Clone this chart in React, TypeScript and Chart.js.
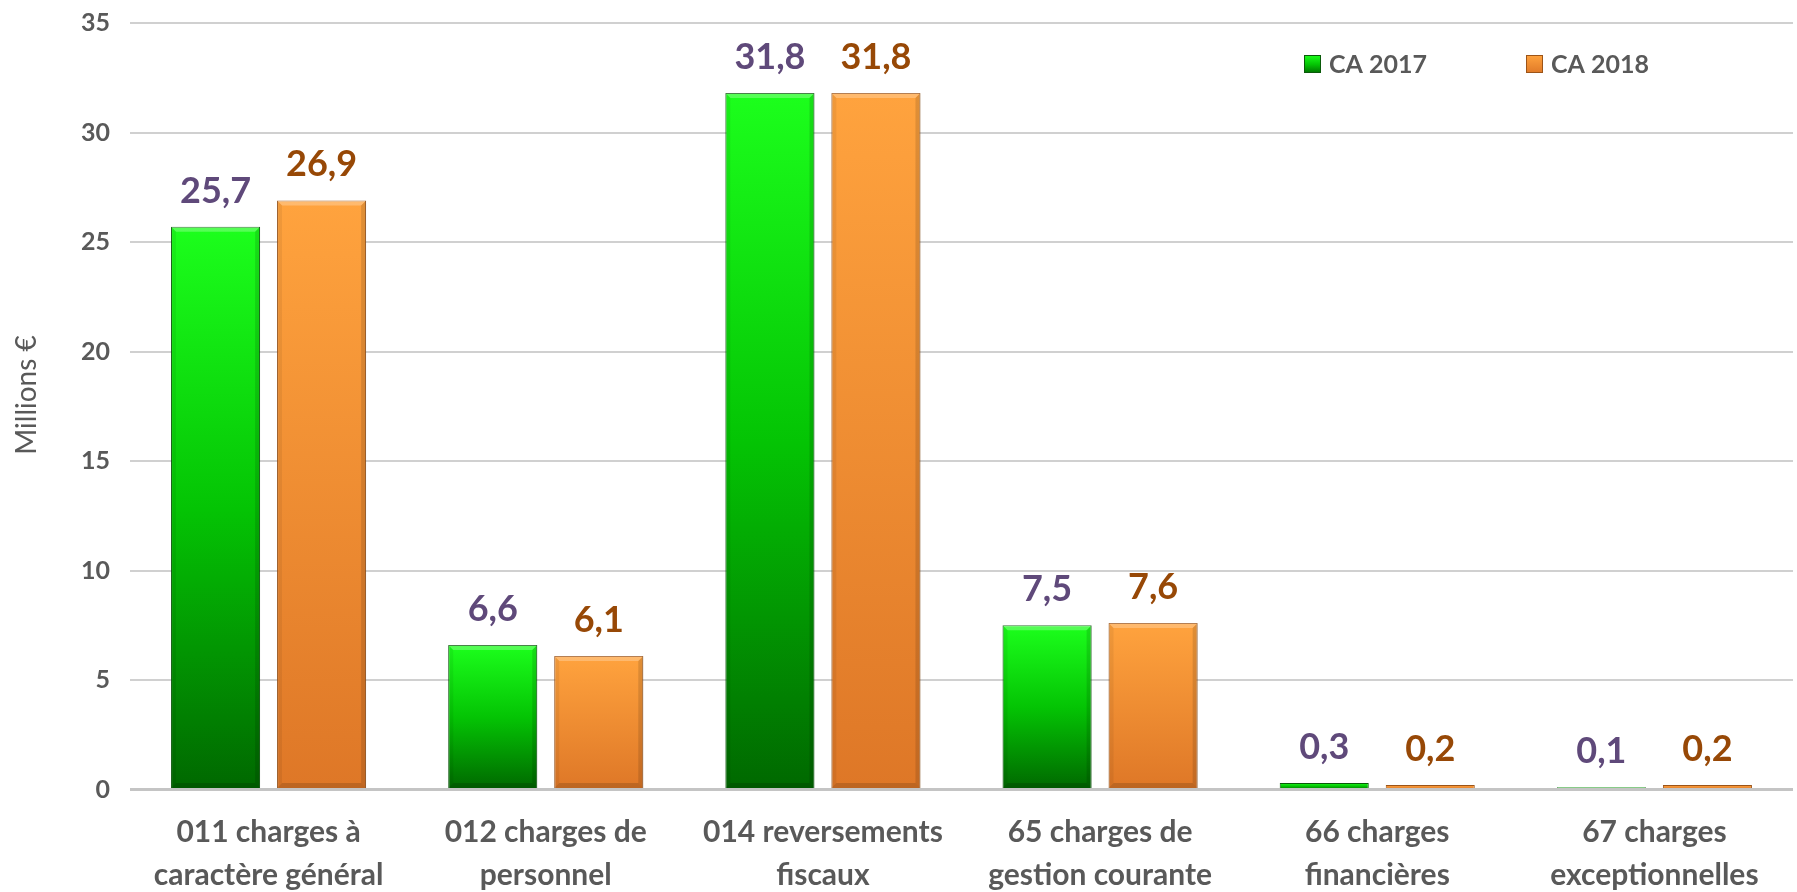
import React, { useEffect, useRef } from "react";
import { Chart, registerables } from "chart.js";

Chart.register(...registerables);

const categories: string[][] = [
  ["011 charges à", "caractère général"],
  ["012 charges de", "personnel"],
  ["014 reversements", "fiscaux"],
  ["65 charges de", "gestion courante"],
  ["66 charges", "financières"],
  ["67 charges", "exceptionnelles"],
];
const ca2017: number[] = [25.7, 6.6, 31.8, 7.5, 0.3, 0.1];
const ca2018: number[] = [26.9, 6.1, 31.8, 7.6, 0.2, 0.2];
const seriesNames: string[] = ["CA 2017", "CA 2018"];
const yTicks = { min: 0, max: 35, step: 5 };
const yTitle = "Millions €";

const FONT = "Lato, 'Open Sans', sans-serif";
const GRAY = "#595959";
const LABEL_COLORS = ["#5f497a", "#974806"];
const GREEN_STOPS: [number, string][] = [
  [0, "#1cff1c"],
  [0.5, "#04c404"],
  [1, "#006800"],
];
const ORANGE_STOPS: [number, string][] = [
  [0, "#ffa33e"],
  [1, "#de7727"],
];
const STOPS = [GREEN_STOPS, ORANGE_STOPS];
const BORDERS = ["#0a5a0a", "#9c5418"];

function barGradient(ctx: any, stops: [number, string][]) {
  const chart = ctx.chart;
  const y = chart.scales?.y;
  if (!y || typeof ctx.raw !== "number") return stops[1][1];
  const top = y.getPixelForValue(ctx.raw);
  const base = y.getPixelForValue(0);
  if (!isFinite(top) || !isFinite(base)) return stops[1][1];
  const g = chart.ctx.createLinearGradient(0, top, 0, Math.max(base, top + 1));
  stops.forEach(([o, c]) => g.addColorStop(o, c));
  return g;
}

const bevel = {
  id: "bevel",
  afterDatasetsDraw(chart: any) {
    const c = chart.ctx;
    c.save();
    chart.data.datasets.forEach((_ds: any, di: number) => {
      const meta = chart.getDatasetMeta(di);
      meta.data.forEach((bar: any) => {
        const w = bar.width;
        const l = bar.x - w / 2;
        const r = bar.x + w / 2;
        const t = bar.y;
        const b = bar.base;
        const h = b - t;
        if (h < 8) return;
        const e = 5;
        c.fillStyle = "rgba(255,255,255,0.25)";
        c.beginPath();
        c.moveTo(l, t);
        c.lineTo(r, t);
        c.lineTo(r - e, t + e);
        c.lineTo(l + e, t + e);
        c.closePath();
        c.fill();
        c.fillStyle = "rgba(0,0,0,0.12)";
        c.beginPath();
        c.moveTo(r, t);
        c.lineTo(r, b);
        c.lineTo(r - e, b - e);
        c.lineTo(r - e, t + e);
        c.closePath();
        c.fill();
        c.fillStyle = "rgba(0,0,0,0.06)";
        c.beginPath();
        c.moveTo(l, t);
        c.lineTo(l, b);
        c.lineTo(l + e, b - e);
        c.lineTo(l + e, t + e);
        c.closePath();
        c.fill();
        c.fillStyle = "rgba(0,0,0,0.15)";
        c.beginPath();
        c.moveTo(l, b);
        c.lineTo(r, b);
        c.lineTo(r - e, b - e);
        c.lineTo(l + e, b - e);
        c.closePath();
        c.fill();
      });
    });
    c.restore();
  },
};

const valueLabels = {
  id: "valueLabels",
  afterDatasetsDraw(chart: any) {
    const c = chart.ctx;
    c.save();
    c.font = `bold 36px ${FONT}`;
    c.textAlign = "center";
    c.textBaseline = "alphabetic";
    chart.data.datasets.forEach((ds: any, di: number) => {
      const meta = chart.getDatasetMeta(di);
      c.fillStyle = LABEL_COLORS[di];
      meta.data.forEach((bar: any, i: number) => {
        const v = ds.data[i] as number;
        c.fillText(v.toFixed(1).replace(".", ","), bar.x, bar.y - 24);
      });
    });
    c.restore();
  },
};

const axisTitle = {
  id: "axisTitle",
  afterDraw(chart: any) {
    const c = chart.ctx;
    c.save();
    c.translate(27, 395);
    c.rotate(-Math.PI / 2);
    c.font = `28px ${FONT}`;
    c.fillStyle = GRAY;
    c.textAlign = "center";
    c.textBaseline = "middle";
    c.fillText(yTitle, 0, 0);
    c.restore();
  },
};

const customLegend = {
  id: "customLegend",
  afterDraw(chart: any) {
    const c = chart.ctx;
    const items = [
      { x: 1304, name: seriesNames[0], stops: GREEN_STOPS, border: BORDERS[0] },
      { x: 1526, name: seriesNames[1], stops: ORANGE_STOPS, border: BORDERS[1] },
    ];
    c.save();
    items.forEach((it) => {
      const g = c.createLinearGradient(0, 55, 0, 74);
      it.stops.forEach(([o, col]) => g.addColorStop(o, col));
      c.fillStyle = g;
      c.fillRect(it.x, 55, 17, 18);
      c.strokeStyle = it.border;
      c.lineWidth = 1;
      c.strokeRect(it.x + 0.5, 55.5, 16, 17);
      c.fillStyle = GRAY;
      c.font = `bold 25px ${FONT}`;
      c.textAlign = "left";
      c.textBaseline = "alphabetic";
      c.fillText(it.name, it.x + 25, 73);
    });
    c.restore();
  },
};

export default function App() {
  const ref = useRef<HTMLCanvasElement | null>(null);
  useEffect(() => {
    document.body.style.margin = "0";
    if (!ref.current) return;
    const chart = new Chart(ref.current, {
      type: "bar",
      data: {
        labels: categories,
        datasets: [ca2017, ca2018].map((d, di) => ({
          label: seriesNames[di],
          data: d,
          backgroundColor: (ctx: any) => barGradient(ctx, STOPS[di]),
          borderColor: BORDERS[di],
          borderWidth: 1,
          barPercentage: 0.84,
          categoryPercentage: 0.765,
        })),
      },
      options: {
        responsive: false,
        animation: false,
        devicePixelRatio: 1,
        layout: { padding: { top: 23, right: 4, left: 0, bottom: 0 } },
        plugins: {
          legend: { display: false },
          tooltip: { enabled: false },
        },
        scales: {
          x: {
            grid: { display: false },
            border: { display: false },
            ticks: {
              font: { family: FONT, size: 30, weight: "bold", lineHeight: 43 / 30 },
              color: GRAY,
              padding: 13,
              maxRotation: 0,
              autoSkip: false,
            },
            afterFit: (s: any) => {
              s.height = 102.5;
              s.paddingLeft = 0;
              s.paddingRight = 0;
            },
          },
          y: {
            min: yTicks.min,
            max: yTicks.max,
            border: { display: false },
            grid: {
              color: (ctx: any) => (ctx.tick && ctx.tick.value === 0 ? "#c4c4c4" : "#d0d0d0"),
              lineWidth: (ctx: any) => (ctx.tick && ctx.tick.value === 0 ? 3 : 2),
              drawTicks: false,
            },
            ticks: {
              stepSize: yTicks.step,
              font: { family: FONT, size: 25, weight: "bold" },
              color: GRAY,
              padding: 20,
            },
            title: { display: false },
            afterFit: (s: any) => {
              s.width = 130;
              s.paddingTop = 0;
              s.paddingBottom = 0;
            },
          },
        },
      },
      plugins: [bevel, valueLabels, axisTitle, customLegend],
    });
    return () => chart.destroy();
  }, []);
  return (
    <div style={{ position: "fixed", left: 0, top: 0, width: 1797, height: 892, background: "#fff" }}>
      <canvas ref={ref} width={1797} height={892} style={{ width: 1797, height: 892, display: "block" }} />
    </div>
  );
}
